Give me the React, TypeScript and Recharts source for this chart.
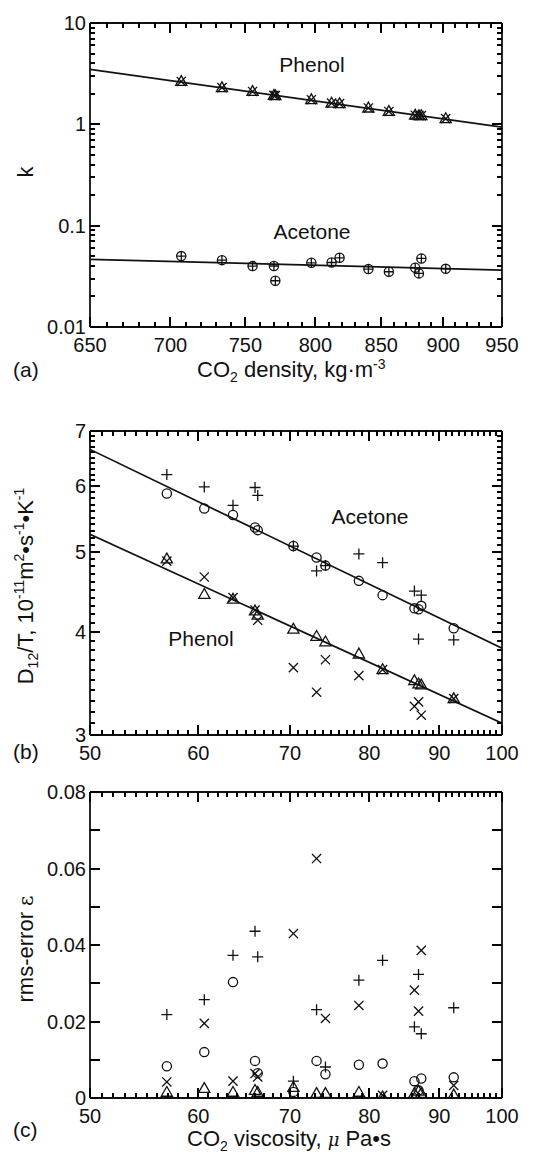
import { ComposedChart, Scatter, XAxis, YAxis } from "recharts";

// (a) retention factor k against CO2 density
const density = [707, 734, 755, 770, 771, 797, 812, 818, 840, 856, 877, 880, 882, 902];
const kPhenol = [2.65, 2.3, 2.11, 1.93, 1.92, 1.75, 1.62, 1.6, 1.45, 1.34, 1.23, 1.22, 1.22, 1.14];
const kAcetone = [0.0501, 0.0457, 0.0399, 0.04, 0.0286, 0.043, 0.0433, 0.0482, 0.0373, 0.0351, 0.0384, 0.0338, 0.0475, 0.0375];
const densityEnds = [650, 950];
const kPhenolFit = [3.48, 0.94];
const kAcetoneFit = [0.0465, 0.0364];

// (b) D12/T against CO2 viscosity
const viscosity = [56.9, 60.6, 63.6, 66.0, 66.3, 70.4, 73.2, 74.3, 78.6, 81.8, 86.3, 86.9, 87.3, 92.2];
const dAcetoneCircle = [5.88, 5.64, 5.54, 5.35, 5.31, 5.08, 4.92, 4.81, 4.61, 4.43, 4.27, 4.26, 4.3, 4.04];
const dAcetonePlus = [6.2, 5.99, 5.69, 5.98, 5.85, 5.08, 4.74, 4.81, 4.97, 4.85, 4.48, 3.92, 4.43, 3.91];
const dPhenolTriangle = [4.9, 4.44, 4.38, 4.24, 4.19, 4.03, 3.95, 3.89, 3.76, 3.6, 3.49, 3.46, 3.45, 3.32];
const dPhenolCross = [4.87, 4.66, 4.4, 4.25, 4.13, 3.62, 3.38, 3.7, 3.54, 3.6, 3.25, 3.29, 3.17, 3.32];
const viscosityEnds = [50, 100];
const dAcetoneFit = [6.65, 3.82];
const dPhenolFit = [5.25, 3.1];

// (c) rms-error
const errPlus = [0.0218, 0.0257, 0.0373, 0.0436, 0.0369, 0.0044, 0.0231, 0.0081, 0.0308, 0.036, 0.0186, 0.0323, 0.0168, 0.0236];
const errCross = [0.0042, 0.0195, 0.0044, 0.0064, 0.0055, 0.043, 0.0626, 0.0208, 0.0242, 0.0007, 0.0282, 0.0227, 0.0386, 0.0033];
const errCircle = [0.0083, 0.012, 0.0303, 0.0097, 0.0065, 0.0016, 0.0097, 0.0062, 0.0087, 0.009, 0.0044, 0.002, 0.0051, 0.0054];
const errTriangle = [0.0015, 0.0025, 0.0015, 0.002, 0.0015, 0.0028, 0.0012, 0.0012, 0.0015, 0.0003, 0.0012, 0.0018, 0.0012, 0.0008];

// tick labels
const densityTicks = [650, 700, 750, 800, 850, 900, 950];
const kTicks = [0.01, 0.1, 1, 10];
const viscosityTicks = [50, 60, 70, 80, 90, 100];
const dTicks = [3, 4, 5, 6, 7];
const errTicks = [0, 0.02, 0.04, 0.06, 0.08];

// minor tick positions
const densityMinor = Array.from({ length: 31 }, (_, i) => 650 + 10 * i);
const kMinor = [0.01, 0.1, 1]
  .flatMap((d) => [1, 2, 3, 4, 5, 6, 7, 8, 9].map((m) => Number((m * d).toPrecision(3))))
  .concat([10]);
const viscosityMinor = Array.from({ length: 51 }, (_, i) => 50 + i);
const dMinor = Array.from({ length: 41 }, (_, i) => Number((3 + i / 10).toFixed(1)));
const errMinor = Array.from({ length: 9 }, (_, i) => Number((i / 100).toFixed(2)));

const ink = "#111";
const font = "'Liberation Sans', Arial, sans-serif";

const pts = (xs: number[], ys: number[]) => xs.map((x, i) => ({ x, y: ys[i] }));

function Circle({ cx, cy }: any) {
  return <circle cx={cx} cy={cy} r={4.6} fill="none" stroke={ink} strokeWidth={1.3} />;
}
function Plus({ cx, cy, s = 5.5 }: any) {
  return <path d={`M${cx - s},${cy}H${cx + s}M${cx},${cy - s}V${cy + s}`} stroke={ink} strokeWidth={1.3} fill="none" />;
}
function Cross({ cx, cy }: any) {
  const s = 4.6;
  return <path d={`M${cx - s},${cy - s}L${cx + s},${cy + s}M${cx - s},${cy + s}L${cx + s},${cy - s}`} stroke={ink} strokeWidth={1.3} fill="none" />;
}
function Triangle({ cx, cy }: any) {
  return <path d={`M${cx},${cy - 5.8}L${cx + 5.6},${cy + 4}L${cx - 5.6},${cy + 4}Z`} stroke={ink} strokeWidth={1.3} fill="none" />;
}
function Star(p: any) {
  return (
    <g>
      <Triangle {...p} />
      <Cross {...p} />
    </g>
  );
}
function CirclePlus(p: any) {
  return (
    <g>
      <Circle {...p} />
      <Plus {...p} s={4.6} />
    </g>
  );
}
const noDot = () => <g />;

const bottomLabel = (props: any) => (
  <text x={props.x} y={props.y + 25} textAnchor="middle" fontSize={20} fontFamily={font} fill={ink}>
    {String(props.payload.value)}
  </text>
);
const leftLabel = (props: any) => (
  <text x={props.x - 4} y={props.y + 7} textAnchor="end" fontSize={20} fontFamily={font} fill={ink}>
    {String(props.payload.value)}
  </text>
);

// page layout shared by the charts and the tick overlay
const W = 543;
const LEFT = 90;
const RIGHT = 41;
interface Panel {
  top: number;
  height: number;
  axisTop: number;
  axisBottom: number;
  xScale: "log" | "linear";
  xDomain: number[];
  xMinor: number[];
  xMajor: number[];
  yScale: "log" | "linear";
  yDomain: number[];
  yMinor: number[];
  yMajor: number[];
  yMinorLen: number;
}
const panelA: Panel = {
  top: 0, height: 390, axisTop: 23, axisBottom: 63,
  xScale: "log", xDomain: [650, 950], xMinor: densityMinor, xMajor: densityTicks,
  yScale: "log", yDomain: [0.01, 10], yMinor: kMinor, yMajor: kTicks, yMinorLen: 5,
};
const panelB: Panel = {
  top: 390, height: 380, axisTop: 41, axisBottom: 35,
  xScale: "log", xDomain: [50, 100], xMinor: viscosityMinor, xMajor: viscosityTicks,
  yScale: "log", yDomain: [3, 7], yMinor: dMinor, yMajor: dTicks, yMinorLen: 5,
};
const panelC: Panel = {
  top: 770, height: 386, axisTop: 22, axisBottom: 58,
  xScale: "log", xDomain: [50, 100], xMinor: viscosityMinor, xMajor: viscosityTicks,
  yScale: "linear", yDomain: [0, 0.08], yMinor: errMinor, yMajor: errTicks, yMinorLen: 10,
};

const isMajor = (v: number, majors: number[]) => majors.some((m) => Math.abs(m - v) <= 1e-6 * Math.max(Math.abs(m), 1e-3));

// labelled bottom/left axes plus bare top/right axes draw the box
function frame(o: Panel) {
  const line = { stroke: ink, strokeWidth: 1.8 };
  const base = { type: "number" as const, interval: 0 as const, allowDataOverflow: true, tickMargin: 0, stroke: ink };
  const xb = { ...base, dataKey: "x", scale: o.xScale, domain: o.xDomain };
  const yb = { ...base, dataKey: "y", scale: o.yScale, domain: o.yDomain };
  return [
    <XAxis key="xl" {...xb} ticks={o.xMajor} tick={bottomLabel} tickLine={false} tickSize={0} axisLine={line} height={o.axisBottom} />,
    <XAxis key="xt" xAxisId="top" orientation="top" {...xb} ticks={o.xMajor} tick={false} tickLine={false} axisLine={line} height={o.axisTop} />,
    <YAxis key="yl" {...yb} ticks={o.yMajor} tick={leftLabel} tickLine={false} tickSize={0} axisLine={line} width={LEFT} />,
    <YAxis key="yr" yAxisId="right" orientation="right" {...yb} ticks={o.yMajor} tick={false} tickLine={false} axisLine={line} width={RIGHT} />,
  ];
}

// inward major/minor tick marks on all four sides of a panel's box
function tickPath(o: Panel) {
  const x0 = LEFT, x1 = W - RIGHT;
  const y0 = o.top + o.height - o.axisBottom, y1 = o.top + o.axisTop;
  const map = (scale: string, [d0, d1]: number[], a: number, b: number) => (v: number) =>
    scale === "log" ? a + ((b - a) * Math.log(v / d0)) / Math.log(d1 / d0) : a + ((b - a) * (v - d0)) / (d1 - d0);
  const fx = map(o.xScale, o.xDomain, x0, x1);
  const fy = map(o.yScale, o.yDomain, y0, y1);
  const segs: string[] = [];
  for (const v of o.xMinor) {
    const len = isMajor(v, o.xMajor) ? 10 : 5;
    const x = Math.round(fx(v));
    segs.push(`M${x} ${y0}L${x} ${y0 - len}`, `M${x} ${y1}L${x} ${y1 + len}`);
  }
  for (const v of o.yMinor) {
    const len = isMajor(v, o.yMajor) ? 10 : o.yMinorLen;
    const y = Math.round(fy(v));
    segs.push(`M${x0} ${y}L${x0 + len} ${y}`, `M${x1} ${y}L${x1 - len} ${y}`);
  }
  return <path d={segs.join(" ")} stroke="#000" strokeWidth={1.8} fill="none" shapeRendering="crispEdges" />;
}

const fitLine = { stroke: ink, strokeWidth: 1.7 };
const zero = { top: 0, right: 0, bottom: 0, left: 0 };

function PanelA() {
  return (
    <ComposedChart width={W} height={panelA.height} margin={zero}>
      {frame(panelA)}
      <Scatter data={pts(densityEnds, kPhenolFit)} line={fitLine} shape={noDot} isAnimationActive={false} />
      <Scatter data={pts(densityEnds, kAcetoneFit)} line={fitLine} shape={noDot} isAnimationActive={false} />
      <Scatter data={pts(density, kPhenol)} shape={Star} isAnimationActive={false} />
      <Scatter data={pts(density, kAcetone)} shape={CirclePlus} isAnimationActive={false} />
    </ComposedChart>
  );
}

function PanelB() {
  return (
    <ComposedChart width={W} height={panelB.height} margin={zero}>
      {frame(panelB)}
      <Scatter data={pts(viscosityEnds, dAcetoneFit)} line={fitLine} shape={noDot} isAnimationActive={false} />
      <Scatter data={pts(viscosityEnds, dPhenolFit)} line={fitLine} shape={noDot} isAnimationActive={false} />
      <Scatter data={pts(viscosity, dAcetoneCircle)} shape={Circle} isAnimationActive={false} />
      <Scatter data={pts(viscosity, dAcetonePlus)} shape={Plus} isAnimationActive={false} />
      <Scatter data={pts(viscosity, dPhenolTriangle)} shape={Triangle} isAnimationActive={false} />
      <Scatter data={pts(viscosity, dPhenolCross)} shape={Cross} isAnimationActive={false} />
    </ComposedChart>
  );
}

function PanelC() {
  return (
    <ComposedChart width={W} height={panelC.height} margin={zero}>
      {frame(panelC)}
      <Scatter data={pts(viscosity, errCircle)} shape={Circle} isAnimationActive={false} />
      <Scatter data={pts(viscosity, errPlus)} shape={Plus} isAnimationActive={false} />
      <Scatter data={pts(viscosity, errTriangle)} shape={Triangle} isAnimationActive={false} />
      <Scatter data={pts(viscosity, errCross)} shape={Cross} isAnimationActive={false} />
    </ComposedChart>
  );
}

const sub = { fontSize: 14 };

function Overlay() {
  return (
    <svg width={W} height={1156} style={{ position: "absolute", left: 0, top: 0, pointerEvents: "none" }} fontFamily={font} fill={ink}>
      {tickPath(panelA)}
      {tickPath(panelB)}
      {tickPath(panelC)}
      {/* (a) */}
      <text x={312} y={72} textAnchor="middle" fontSize={21}>Phenol</text>
      <text x={312} y={239} textAnchor="middle" fontSize={21}>Acetone</text>
      <text transform="translate(33,172) rotate(-90)" textAnchor="middle" fontSize={22}>k</text>
      <text x={13} y={377} fontSize={21}>(a)</text>
      <text x={197} y={377} fontSize={22}>
        CO<tspan {...sub} dy={5}>2</tspan>
        <tspan dy={-5}> density, kg·m</tspan>
        <tspan {...sub} dy={-8}>-3</tspan>
      </text>
      {/* (b) */}
      <text x={370} y={524} textAnchor="middle" fontSize={21}>Acetone</text>
      <text x={201} y={646} textAnchor="middle" fontSize={21}>Phenol</text>
      <text transform="translate(33,586) rotate(-90)" textAnchor="middle" fontSize={22}>
        D<tspan {...sub} dy={5}>12</tspan>
        <tspan dy={-5}>/T, 10</tspan>
        <tspan {...sub} dy={-9}>-11</tspan>
        <tspan dy={9}>m</tspan>
        <tspan {...sub} dy={-9}>2</tspan>
        <tspan dy={9}>•s</tspan>
        <tspan {...sub} dy={-9}>-1</tspan>
        <tspan dy={9}>•K</tspan>
        <tspan {...sub} dy={-9}>-1</tspan>
      </text>
      <text x={13} y={759} fontSize={21}>(b)</text>
      {/* (c) */}
      <text transform="translate(33,949) rotate(-90)" textAnchor="middle" fontSize={22}>
        rms-error <tspan fontFamily="'DejaVu Serif', serif" fontSize={20}>ε</tspan>
      </text>
      <text x={13} y={1137} fontSize={21}>(c)</text>
      <text x={187} y={1146} fontSize={22}>
        CO<tspan {...sub} dy={5}>2</tspan>
        <tspan dy={-5}> viscosity, </tspan>
        <tspan fontFamily="'DejaVu Serif', serif" fontStyle="italic" fontSize={18}>μ</tspan>
        <tspan> Pa•s</tspan>
      </text>
    </svg>
  );
}

export default function App() {
  return (
    <div style={{ position: "absolute", left: 0, top: 0, width: W, height: 1156, background: "#fff" }}>
      <div style={{ position: "absolute", left: 0, top: panelA.top }}>
        <PanelA />
      </div>
      <div style={{ position: "absolute", left: 0, top: panelB.top }}>
        <PanelB />
      </div>
      <div style={{ position: "absolute", left: 0, top: panelC.top }}>
        <PanelC />
      </div>
      <Overlay />
    </div>
  );
}
